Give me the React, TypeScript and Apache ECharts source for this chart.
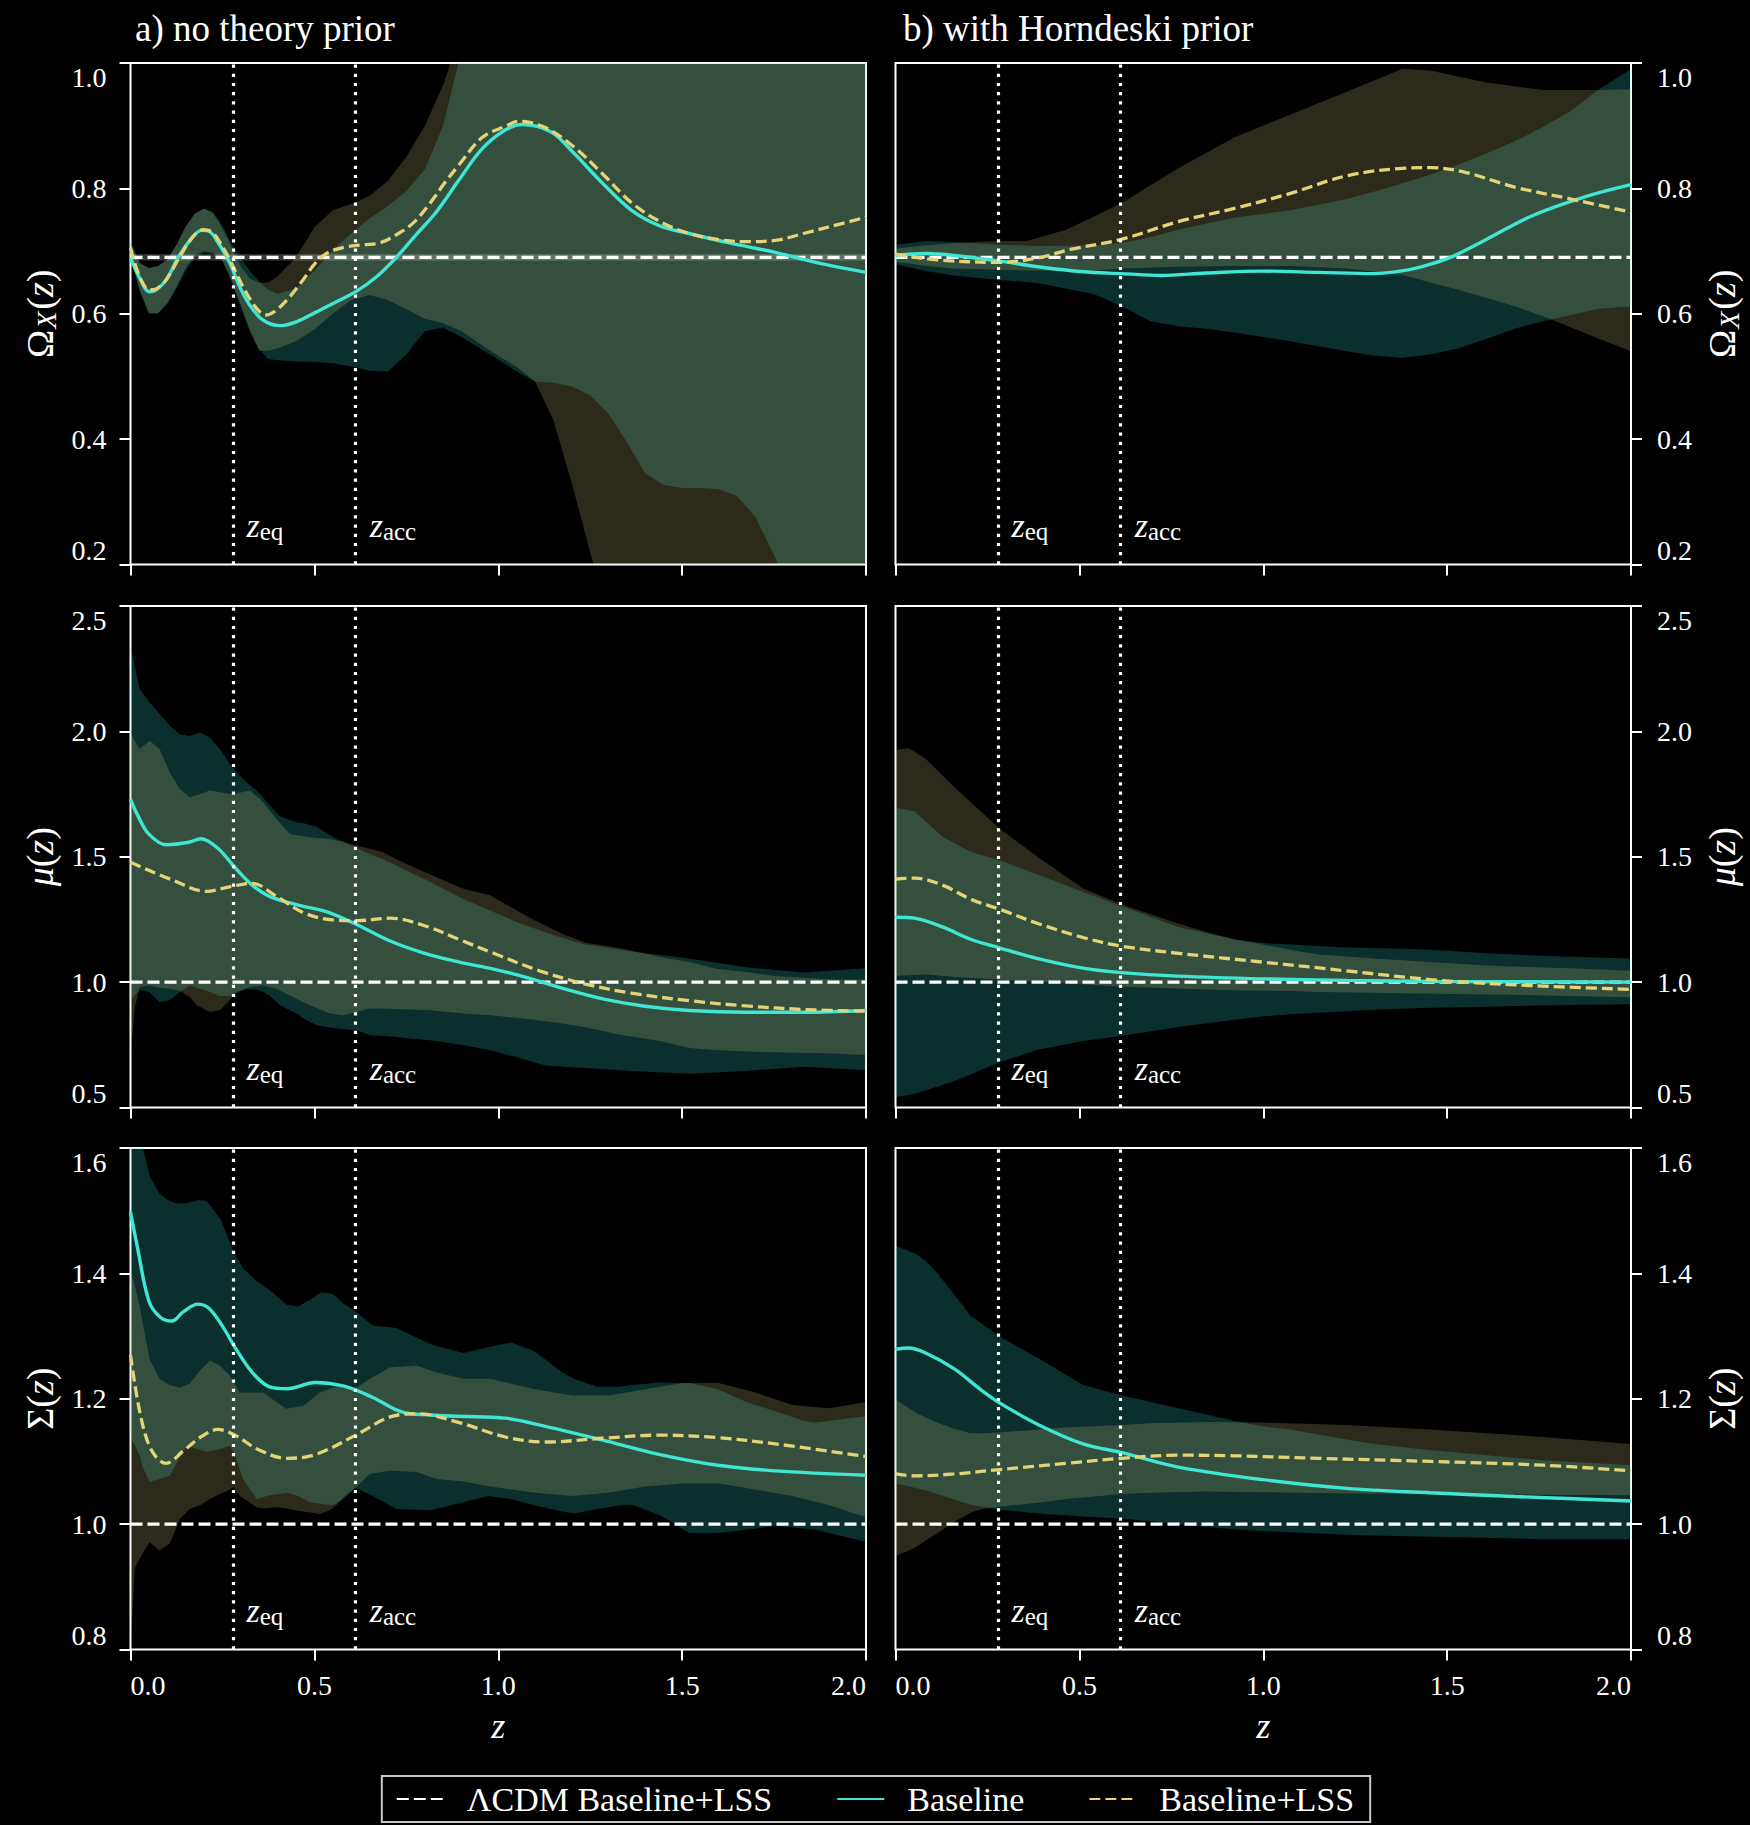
import React, { useEffect, useRef } from "react";
import * as echarts from "echarts";

// ---------- styling constants ----------
const SERIF = "Liberation Serif, DejaVu Serif, serif";
const WHITE = "#ffffff";
const CYAN = "#3fe6d3";
const YELLOW = "#e3d477";
const TEAL_FILL = "rgba(48,235,222,0.2)";
const OLIVE_FILL = "rgba(222,210,130,0.2)";
const LCDM_FILL = "rgba(255,255,255,0.22)";

// ---------- axes ----------
const Z_RANGE = [0, 2, 0.5]; // min, max, interval
const OMEGA_AXIS = [0.2, 1.0, 0.2];
const MU_AXIS = [0.5, 2.5, 0.5];
const SIGMA_AXIS = [0.8, 1.6, 0.2];
const Z_EQ = 0.28;
const Z_ACC = 0.615;
const MARK_LABELS = ["{i|z}{s|eq}", "{i|z}{s|acc}"];

const LCDM_OMEGA = 0.69;
const LCDM_MU = 1.0;
const LCDM_SIGMA = 1.0;
const LCDM_OMEGA_BAND = [[0, 0.685, 0.695], [2, 0.685, 0.695]];

const SERIES_NAMES = ["ΛCDM Baseline+LSS", "Baseline", "Baseline+LSS"];

// ---------- Omega_X(z), no theory prior ----------
const OMEGA_A_BASE_LINE = [
  [0, 0.689], [0.025, 0.657], [0.052, 0.635], [0.07, 0.638], [0.097, 0.654], [0.134, 0.694],
  [0.17, 0.723], [0.193, 0.733], [0.215, 0.731], [0.242, 0.71], [0.27, 0.681], [0.297, 0.643],
  [0.324, 0.614], [0.36, 0.59], [0.406, 0.581], [0.451, 0.587], [0.506, 0.603], [0.56, 0.619],
  [0.615, 0.636], [0.669, 0.659], [0.723, 0.69], [0.778, 0.727], [0.831, 0.762], [0.894, 0.814],
  [0.956, 0.863], [1.019, 0.893], [1.066, 0.902], [1.144, 0.89], [1.206, 0.856], [1.284, 0.808],
  [1.3625, 0.765], [1.44, 0.74], [1.519, 0.728], [1.628, 0.713], [1.753, 0.698], [1.8625, 0.682],
  [2.0, 0.666],
];
const OMEGA_A_LSS_LINE = [
  [0, 0.705], [0.025, 0.659], [0.052, 0.638], [0.074, 0.641], [0.097, 0.654], [0.134, 0.691],
  [0.17, 0.723], [0.197, 0.734], [0.22, 0.731], [0.242, 0.715], [0.27, 0.686], [0.306, 0.643],
  [0.342, 0.609], [0.369, 0.598], [0.397, 0.606], [0.433, 0.627], [0.469, 0.654], [0.506, 0.683],
  [0.542, 0.699], [0.588, 0.707], [0.633, 0.71], [0.678, 0.713], [0.723, 0.726], [0.769, 0.745],
  [0.814, 0.776], [0.856, 0.81], [0.894, 0.838], [0.956, 0.881], [1.019, 0.899], [1.058, 0.907],
  [1.128, 0.897], [1.206, 0.866], [1.284, 0.823], [1.3625, 0.777], [1.44, 0.747], [1.519, 0.728],
  [1.6125, 0.717], [1.675, 0.715], [1.753, 0.717], [1.83, 0.728], [1.909, 0.74], [2.0, 0.754],
];
// [z, lower, upper]
const OMEGA_A_BASE_BAND = [
  [0, 0.69, 0.715], [0.025, 0.636, 0.681], [0.05, 0.6, 0.673], [0.075, 0.6, 0.676], [0.1, 0.615, 0.686],
  [0.125, 0.64, 0.71], [0.15, 0.668, 0.739], [0.175, 0.69, 0.76], [0.2, 0.697, 0.768], [0.225, 0.695, 0.762],
  [0.25, 0.684, 0.74], [0.275, 0.65, 0.712], [0.3, 0.61, 0.688], [0.325, 0.57, 0.668], [0.35, 0.543, 0.652],
  [0.375, 0.528, 0.638], [0.4, 0.526, 0.632], [0.45, 0.524, 0.64], [0.5, 0.523, 0.668], [0.55, 0.521, 0.702],
  [0.6, 0.516, 0.728], [0.65, 0.509, 0.752], [0.7, 0.508, 0.772], [0.75, 0.535, 0.796], [0.8, 0.572, 0.83],
  [0.85, 0.578, 0.9], [0.9, 0.563, 1.02], [0.95, 0.545, 1.1], [1.0, 0.527, 1.1], [1.05, 0.508, 1.1],
  [1.1, 0.492, 1.1], [1.15, 0.49, 1.1], [1.2, 0.484, 1.1], [1.25, 0.47, 1.1], [1.3, 0.44, 1.1],
  [1.35, 0.395, 1.1], [1.4, 0.345, 1.1], [1.45, 0.327, 1.1], [1.5, 0.322, 1.1], [1.55, 0.322, 1.1],
  [1.6, 0.32, 1.1], [1.65, 0.309, 1.1], [1.7, 0.275, 1.1], [1.75, 0.215, 1.1], [1.8, 0.15, 1.1],
  [1.9, 0.06, 1.1], [2.0, -0.03, 1.1],
];
const OMEGA_A_LSS_BAND = [
  [0, 0.69, 0.715], [0.025, 0.638, 0.681], [0.05, 0.601, 0.673], [0.075, 0.601, 0.676], [0.1, 0.617, 0.686],
  [0.125, 0.643, 0.71], [0.15, 0.673, 0.739], [0.175, 0.694, 0.76], [0.2, 0.7, 0.768], [0.225, 0.697, 0.76],
  [0.25, 0.686, 0.736], [0.275, 0.654, 0.706], [0.3, 0.614, 0.675], [0.325, 0.574, 0.656], [0.35, 0.541, 0.649],
  [0.375, 0.541, 0.65], [0.4, 0.545, 0.66], [0.45, 0.556, 0.69], [0.5, 0.575, 0.738], [0.55, 0.6, 0.765],
  [0.6, 0.622, 0.775], [0.65, 0.63, 0.788], [0.7, 0.622, 0.812], [0.75, 0.607, 0.85], [0.8, 0.592, 0.899],
  [0.85, 0.585, 0.965], [0.9, 0.572, 1.05], [0.95, 0.552, 1.1], [1.0, 0.533, 1.1], [1.05, 0.515, 1.1],
  [1.1, 0.492, 1.1], [1.15, 0.43, 1.1], [1.2, 0.33, 1.1], [1.25, 0.22, 1.1], [1.3, 0.11, 1.1],
  [1.35, 0.0, 1.1], [1.4, -0.1, 1.1], [2.0, -0.1, 1.1],
];

// ---------- Omega_X(z), Horndeski prior ----------
const OMEGA_B_BASE_LINE = [
  [0, 0.693], [0.082, 0.696], [0.159, 0.693], [0.284, 0.684], [0.387, 0.675], [0.51, 0.667],
  [0.616, 0.664], [0.723, 0.661], [0.845, 0.665], [0.998, 0.668], [1.15, 0.666], [1.303, 0.664],
  [1.394, 0.67], [1.455, 0.679], [1.517, 0.692], [1.608, 0.719], [1.73, 0.756], [1.883, 0.788], [2.0, 0.806],
];
const OMEGA_B_LSS_LINE = [
  [0, 0.695], [0.113, 0.686], [0.284, 0.682], [0.387, 0.689], [0.479, 0.703], [0.616, 0.719],
  [0.769, 0.747], [0.921, 0.768], [1.074, 0.792], [1.227, 0.82], [1.379, 0.832], [1.455, 0.833],
  [1.547, 0.826], [1.684, 0.802], [1.837, 0.783], [2.0, 0.762],
];
const OMEGA_B_BASE_BAND = [
  [0, 0.679, 0.71], [0.082, 0.668, 0.716], [0.159, 0.661, 0.714], [0.284, 0.654, 0.71], [0.387, 0.649, 0.708],
  [0.54, 0.631, 0.709], [0.616, 0.612, 0.713], [0.693, 0.588, 0.722], [0.769, 0.58, 0.734], [0.845, 0.576, 0.744],
  [0.921, 0.57, 0.753], [0.998, 0.563, 0.759], [1.074, 0.556, 0.765], [1.15, 0.548, 0.774], [1.227, 0.54, 0.783],
  [1.303, 0.533, 0.795], [1.379, 0.53, 0.808], [1.455, 0.535, 0.822], [1.532, 0.545, 0.838], [1.608, 0.56, 0.856],
  [1.684, 0.576, 0.875], [1.761, 0.588, 0.898], [1.837, 0.598, 0.924], [1.913, 0.608, 0.958], [2.0, 0.612, 0.99],
];
const OMEGA_B_LSS_BAND = [
  [0, 0.683, 0.704], [0.082, 0.676, 0.709], [0.159, 0.672, 0.713], [0.284, 0.67, 0.716], [0.357, 0.669, 0.716],
  [0.464, 0.668, 0.734], [0.54, 0.669, 0.755], [0.616, 0.672, 0.777], [0.769, 0.675, 0.832], [0.921, 0.676, 0.881],
  [1.074, 0.676, 0.918], [1.227, 0.672, 0.954], [1.379, 0.662, 0.991], [1.455, 0.65, 0.988], [1.532, 0.638, 0.978],
  [1.608, 0.625, 0.969], [1.684, 0.612, 0.963], [1.761, 0.596, 0.957], [1.837, 0.578, 0.957], [1.913, 0.56, 0.957],
  [2.0, 0.54, 0.958],
];

// ---------- mu(z), no theory prior ----------
const MU_A_BASE_LINE = [
  [0, 1.73], [0.019, 1.667], [0.05, 1.59], [0.097, 1.548], [0.159, 1.558], [0.191, 1.572], [0.2375, 1.534],
  [0.284, 1.457], [0.331, 1.387], [0.378, 1.342], [0.456, 1.307], [0.534, 1.28], [0.616, 1.229], [0.706, 1.164],
  [0.8, 1.115], [0.894, 1.08], [0.9875, 1.052], [1.081, 1.017], [1.175, 0.975], [1.284, 0.933], [1.394, 0.905],
  [1.519, 0.887], [1.675, 0.88], [1.831, 0.88], [2.0, 0.887],
];
const MU_A_LSS_LINE = [
  [0, 1.478], [0.1125, 1.408], [0.206, 1.362], [0.269, 1.38], [0.331, 1.394], [0.394, 1.345], [0.472, 1.276],
  [0.55, 1.248], [0.616, 1.245], [0.706, 1.255], [0.8, 1.225], [0.894, 1.17], [0.9875, 1.115], [1.1125, 1.045],
  [1.2375, 0.992], [1.3625, 0.956], [1.519, 0.926], [1.675, 0.905], [1.831, 0.891], [2.0, 0.884],
];
const MU_A_BASE_BAND = [
  [0, 0.93, 2.341], [0.025, 0.97, 2.168], [0.052, 0.96, 2.115], [0.079, 0.921, 2.07], [0.107, 0.928, 2.022],
  [0.134, 0.961, 1.989], [0.161, 0.987, 1.982], [0.189, 0.974, 1.996], [0.216, 0.961, 1.976], [0.243, 0.945, 1.93],
  [0.27, 0.945, 1.87], [0.297, 0.962, 1.823], [0.316, 0.972, 1.797], [0.343, 0.97, 1.764], [0.361, 0.961, 1.735],
  [0.379, 0.945, 1.704], [0.406, 0.908, 1.662], [0.452, 0.875, 1.637], [0.47, 0.855, 1.635], [0.506, 0.828, 1.62],
  [0.56, 0.815, 1.571], [0.615, 0.808, 1.535], [0.651, 0.788, 1.51], [0.687, 0.785, 1.49], [0.723, 0.781, 1.465],
  [0.76, 0.775, 1.438], [0.814, 0.768, 1.4], [0.905, 0.748, 1.332], [0.978, 0.728, 1.286], [1.05, 0.7, 1.24],
  [1.128, 0.667, 1.199], [1.206, 0.66, 1.162], [1.2375, 0.658, 1.15], [1.3625, 0.646, 1.122], [1.519, 0.635, 1.094],
  [1.675, 0.646, 1.059], [1.831, 0.663, 1.038], [2.0, 0.649, 1.055],
];
const MU_A_LSS_BAND = [
  [0, 0.7, 1.996], [0.012, 0.9, 1.96], [0.025, 0.981, 1.93], [0.052, 0.987, 1.963], [0.079, 0.978, 1.93],
  [0.107, 0.974, 1.836], [0.134, 0.966, 1.77], [0.161, 0.94, 1.737], [0.18, 0.908, 1.745], [0.216, 0.881, 1.764],
  [0.243, 0.888, 1.757], [0.27, 0.928, 1.75], [0.288, 0.961, 1.752], [0.325, 0.981, 1.764], [0.361, 0.987, 1.717],
  [0.397, 0.974, 1.651], [0.433, 0.947, 1.591], [0.488, 0.908, 1.578], [0.542, 0.875, 1.571], [0.578, 0.868, 1.56],
  [0.615, 0.881, 1.545], [0.651, 0.895, 1.532], [0.687, 0.895, 1.518], [0.723, 0.893, 1.49], [0.76, 0.891, 1.465],
  [0.814, 0.888, 1.43], [0.905, 0.875, 1.372], [0.978, 0.868, 1.346], [1.097, 0.85, 1.248], [1.175, 0.835, 1.192],
  [1.2375, 0.82, 1.157], [1.331, 0.79, 1.136], [1.44, 0.765, 1.1], [1.519, 0.737, 1.08], [1.597, 0.728, 1.052],
  [1.675, 0.723, 1.04], [1.753, 0.72, 1.024], [1.909, 0.715, 1.01], [2.0, 0.709, 1.01],
];

// ---------- mu(z), Horndeski prior ----------
const MU_B_BASE_LINE = [
  [0, 1.259], [0.052, 1.255], [0.128, 1.22], [0.204, 1.171], [0.284, 1.136], [0.387, 1.094], [0.51, 1.056],
  [0.616, 1.038], [0.769, 1.024], [0.998, 1.013], [1.227, 1.007], [1.455, 1.003], [2.0, 1.0],
];
const MU_B_LSS_LINE = [
  [0, 1.411], [0.052, 1.415], [0.128, 1.387], [0.204, 1.331], [0.284, 1.29], [0.387, 1.234], [0.51, 1.178],
  [0.616, 1.143], [0.769, 1.115], [0.998, 1.08], [1.227, 1.045], [1.455, 1.01], [1.684, 0.989], [2.0, 0.971],
];
const MU_B_BASE_BAND = [
  [0, 0.541, 1.695], [0.052, 0.555, 1.681], [0.128, 0.59, 1.58], [0.159, 0.605, 1.555], [0.204, 0.632, 1.52],
  [0.284, 0.681, 1.485], [0.387, 0.73, 1.429], [0.51, 0.765, 1.359], [0.616, 0.786, 1.303], [0.769, 0.821, 1.22],
  [0.921, 0.85, 1.171], [0.998, 0.863, 1.156], [1.074, 0.872, 1.15], [1.227, 0.884, 1.138], [1.303, 0.89, 1.136],
  [1.455, 0.898, 1.129], [1.608, 0.902, 1.115], [1.684, 0.905, 1.11], [1.837, 0.909, 1.101], [2.0, 0.912, 1.094],
];
const MU_B_LSS_BAND = [
  [0, 1.024, 1.926], [0.037, 1.027, 1.933], [0.082, 1.031, 1.891], [0.159, 1.02, 1.779], [0.284, 1.01, 1.611],
  [0.387, 1.002, 1.499], [0.464, 0.996, 1.42], [0.51, 0.992, 1.373], [0.616, 0.982, 1.31], [0.769, 0.975, 1.234],
  [0.845, 0.971, 1.2], [0.921, 0.968, 1.171], [1.074, 0.965, 1.129], [1.15, 0.961, 1.11], [1.303, 0.958, 1.094],
  [1.455, 0.954, 1.08], [1.608, 0.951, 1.066], [1.761, 0.947, 1.058], [1.837, 0.945, 1.055], [2.0, 0.94, 1.045],
];

// ---------- Sigma(z), no theory prior ----------
const SIGMA_A_BASE_LINE = [
  [0, 1.498], [0.019, 1.441], [0.05, 1.356], [0.081, 1.33], [0.1125, 1.324], [0.144, 1.339], [0.183, 1.351],
  [0.214, 1.344], [0.253, 1.313], [0.284, 1.282], [0.331, 1.242], [0.378, 1.219], [0.425, 1.216], [0.503, 1.226],
  [0.581, 1.22], [0.659, 1.202], [0.7375, 1.179], [0.816, 1.174], [0.894, 1.172], [1.019, 1.169], [1.128, 1.156],
  [1.284, 1.134], [1.44, 1.111], [1.597, 1.094], [1.753, 1.085], [2.0, 1.078],
];
const SIGMA_A_LSS_LINE = [
  [0, 1.27], [0.027, 1.174], [0.058, 1.117], [0.097, 1.097], [0.144, 1.117], [0.191, 1.139], [0.2375, 1.151],
  [0.284, 1.142], [0.347, 1.119], [0.425, 1.105], [0.503, 1.111], [0.6125, 1.142], [0.706, 1.171], [0.784, 1.176],
  [0.894, 1.162], [1.019, 1.139], [1.128, 1.131], [1.284, 1.137], [1.44, 1.142], [1.597, 1.138], [1.753, 1.128],
  [2.0, 1.108],
];
const SIGMA_A_BASE_BAND = [
  [0, 1.14, 1.75], [0.025, 1.109, 1.65], [0.034, 1.09, 1.6], [0.052, 1.067, 1.555], [0.079, 1.072, 1.527],
  [0.107, 1.077, 1.515], [0.128, 1.1, 1.512], [0.152, 1.125, 1.512], [0.183, 1.12, 1.517], [0.207, 1.115, 1.516],
  [0.245, 1.12, 1.486], [0.27, 1.125, 1.45], [0.284, 1.11, 1.43], [0.306, 1.072, 1.408], [0.343, 1.04, 1.388],
  [0.379, 1.046, 1.373], [0.425, 1.05, 1.35], [0.456, 1.045, 1.347], [0.488, 1.035, 1.358], [0.519, 1.032, 1.37],
  [0.55, 1.03, 1.367], [0.579, 1.04, 1.352], [0.6125, 1.058, 1.339], [0.659, 1.045, 1.317], [0.723, 1.024, 1.313],
  [0.816, 1.022, 1.287], [0.905, 1.035, 1.273], [0.972, 1.045, 1.282], [1.034, 1.04, 1.29], [1.097, 1.03, 1.276],
  [1.175, 1.02, 1.242], [1.206, 1.017, 1.232], [1.269, 1.024, 1.219], [1.331, 1.03, 1.219], [1.3625, 1.031, 1.222],
  [1.44, 1.014, 1.226], [1.519, 0.986, 1.225], [1.597, 0.986, 1.215], [1.675, 0.991, 1.195], [1.753, 0.997, 1.18],
  [1.831, 0.993, 1.165], [1.8625, 0.991, 1.162], [2.0, 0.972, 1.172],
];
const SIGMA_A_LSS_BAND = [
  [0, 0.8, 1.407], [0.012, 0.93, 1.38], [0.025, 0.945, 1.348], [0.052, 0.971, 1.263], [0.079, 0.958, 1.232],
  [0.107, 0.969, 1.222], [0.134, 1.008, 1.218], [0.161, 1.024, 1.224], [0.189, 1.03, 1.245], [0.216, 1.04, 1.261],
  [0.243, 1.048, 1.253], [0.27, 1.055, 1.237], [0.279, 1.059, 1.228], [0.297, 1.045, 1.21], [0.343, 1.027, 1.21],
  [0.361, 1.025, 1.21], [0.397, 1.027, 1.195], [0.424, 1.025, 1.184], [0.47, 1.02, 1.189], [0.515, 1.016, 1.21],
  [0.542, 1.022, 1.216], [0.56, 1.03, 1.22], [0.579, 1.043, 1.219], [0.615, 1.06, 1.218], [0.651, 1.08, 1.232],
  [0.705, 1.085, 1.25], [0.778, 1.083, 1.253], [0.832, 1.072, 1.242], [0.905, 1.068, 1.232], [0.978, 1.06, 1.232],
  [1.1, 1.05, 1.215], [1.2, 1.045, 1.205], [1.3, 1.05, 1.205], [1.4, 1.06, 1.215], [1.5, 1.065, 1.225],
  [1.6, 1.065, 1.225], [1.7, 1.055, 1.21], [1.8, 1.045, 1.19], [1.9, 1.03, 1.185], [2.0, 1.011, 1.195],
];

// ---------- Sigma(z), Horndeski prior ----------
const SIGMA_B_BASE_LINE = [
  [0, 1.279], [0.037, 1.281], [0.082, 1.273], [0.159, 1.248], [0.235, 1.213], [0.284, 1.193], [0.387, 1.159],
  [0.51, 1.128], [0.616, 1.114], [0.769, 1.091], [0.998, 1.071], [1.227, 1.057], [1.455, 1.05], [1.684, 1.044],
  [2.0, 1.037],
];
const SIGMA_B_LSS_LINE = [
  [0, 1.08], [0.052, 1.077], [0.159, 1.08], [0.284, 1.087], [0.464, 1.097], [0.616, 1.105], [0.769, 1.11],
  [0.921, 1.109], [1.15, 1.105], [1.455, 1.1], [1.761, 1.094], [2.0, 1.085],
];
const SIGMA_B_BASE_BAND = [
  [0, 1.065, 1.444], [0.052, 1.058, 1.432], [0.082, 1.054, 1.42], [0.113, 1.048, 1.401], [0.204, 1.031, 1.333],
  [0.284, 1.023, 1.299], [0.387, 1.017, 1.265], [0.51, 1.012, 1.222], [0.616, 1.009, 1.205], [0.769, 1.0, 1.185],
  [0.876, 0.994, 1.171], [0.921, 0.992, 1.165], [0.998, 0.989, 1.156], [1.074, 0.987, 1.151], [1.227, 0.983, 1.135],
  [1.303, 0.982, 1.128], [1.455, 0.98, 1.118], [1.532, 0.979, 1.114], [1.761, 0.976, 1.102], [2.0, 0.976, 1.094],
];
const SIGMA_B_LSS_BAND = [
  [0, 0.949, 1.199], [0.052, 0.962, 1.179], [0.082, 0.974, 1.17], [0.113, 0.985, 1.162], [0.159, 1.003, 1.152],
  [0.204, 1.018, 1.145], [0.235, 1.024, 1.145], [0.284, 1.028, 1.146], [0.387, 1.034, 1.151], [0.464, 1.04, 1.154],
  [0.54, 1.044, 1.156], [0.616, 1.048, 1.158], [0.693, 1.05, 1.161], [0.845, 1.052, 1.163], [0.998, 1.051, 1.162],
  [1.227, 1.049, 1.158], [1.455, 1.048, 1.151], [1.761, 1.047, 1.139], [2.0, 1.046, 1.128],
];

// ---------- layout ----------
const COL_LEFT = [130.5, 895.5];
const COL_WIDTH = 735.5;
const ROW_TOP = [63, 606, 1148];
const ROW_HEIGHT = 501.5;

const NAME_OMEGA = "{n|Ω}{s|X}{n|(}{i|z}{n|)}";
const NAME_MU = "{i|μ}{n|(}{i|z}{n|)}";
const NAME_SIGMA = "{n|Σ(}{i|z}{n|)}";

const PANELS = [
  { row: 0, col: 0, axis: OMEGA_AXIS, name: NAME_OMEGA, lcdm: LCDM_OMEGA, lcdmBand: LCDM_OMEGA_BAND, base: OMEGA_A_BASE_LINE, lss: OMEGA_A_LSS_LINE, baseBand: OMEGA_A_BASE_BAND, lssBand: OMEGA_A_LSS_BAND },
  { row: 0, col: 1, axis: OMEGA_AXIS, name: NAME_OMEGA, lcdm: LCDM_OMEGA, lcdmBand: null, base: OMEGA_B_BASE_LINE, lss: OMEGA_B_LSS_LINE, baseBand: OMEGA_B_BASE_BAND, lssBand: OMEGA_B_LSS_BAND },
  { row: 1, col: 0, axis: MU_AXIS, name: NAME_MU, lcdm: LCDM_MU, lcdmBand: null, base: MU_A_BASE_LINE, lss: MU_A_LSS_LINE, baseBand: MU_A_BASE_BAND, lssBand: MU_A_LSS_BAND },
  { row: 1, col: 1, axis: MU_AXIS, name: NAME_MU, lcdm: LCDM_MU, lcdmBand: null, base: MU_B_BASE_LINE, lss: MU_B_LSS_LINE, baseBand: MU_B_BASE_BAND, lssBand: MU_B_LSS_BAND },
  { row: 2, col: 0, axis: SIGMA_AXIS, name: NAME_SIGMA, lcdm: LCDM_SIGMA, lcdmBand: null, base: SIGMA_A_BASE_LINE, lss: SIGMA_A_LSS_LINE, baseBand: SIGMA_A_BASE_BAND, lssBand: SIGMA_A_LSS_BAND },
  { row: 2, col: 1, axis: SIGMA_AXIS, name: NAME_SIGMA, lcdm: LCDM_SIGMA, lcdmBand: null, base: SIGMA_B_BASE_LINE, lss: SIGMA_B_LSS_LINE, baseBand: SIGMA_B_BASE_BAND, lssBand: SIGMA_B_LSS_BAND },
];

const NAME_RICH = {
  n: { fontFamily: SERIF, fontSize: 38, color: WHITE, lineHeight: 42 },
  i: { fontFamily: SERIF, fontStyle: "italic", fontSize: 38, color: WHITE, lineHeight: 42 },
  s: { fontFamily: SERIF, fontStyle: "italic", fontSize: 28, color: WHITE, lineHeight: 24, verticalAlign: "bottom", padding: [0, 2, 0, 1] },
};
const MARK_RICH = {
  i: { fontFamily: SERIF, fontStyle: "italic", fontSize: 34, color: WHITE, lineHeight: 38 },
  s: { fontFamily: SERIF, fontSize: 25, color: WHITE, lineHeight: 22, verticalAlign: "bottom" },
};

function bandSeries(gi: number, data: number[][], color: string, zIndex: number) {
  return {
    type: "custom",
    xAxisIndex: gi,
    yAxisIndex: gi,
    clip: true,
    silent: true,
    z: zIndex,
    data,
    encode: { x: 0, y: [1, 2] },
    renderItem: (params: any, api: any) => {
      if (params.dataIndex !== 0) return null;
      const upper = data.map((d) => api.coord([d[0], d[2]]));
      const lower = data.map((d) => api.coord([d[0], d[1]])).reverse();
      return {
        type: "polygon",
        shape: { points: upper.concat(lower) },
        style: { fill: color, stroke: null },
      };
    },
  };
}

function lineSeries(gi: number, name: string, data: number[][], color: string, dash: any, width: number, zIndex: number, smooth: any) {
  return {
    type: "line",
    name,
    xAxisIndex: gi,
    yAxisIndex: gi,
    data,
    smooth,
    symbol: "none",
    showSymbol: false,
    silent: true,
    clip: true,
    z: zIndex,
    itemStyle: { color },
    lineStyle: { color, width, type: dash, cap: "butt" },
  };
}

function buildOption() {
  const grid: any[] = [];
  const xAxis: any[] = [];
  const yAxis: any[] = [];
  const series: any[] = [];

  PANELS.forEach((p, gi) => {
    const [yMin, yMax, yStep] = p.axis;
    grid.push({
      left: COL_LEFT[p.col],
      top: ROW_TOP[p.row],
      width: COL_WIDTH,
      height: ROW_HEIGHT,
      show: true,
      borderColor: WHITE,
      borderWidth: 2,
      backgroundColor: "transparent",
    });
    const bottomRow = p.row === 2;
    xAxis.push({
      type: "value",
      gridIndex: gi,
      min: Z_RANGE[0],
      max: Z_RANGE[1],
      interval: Z_RANGE[2],
      axisLine: { show: false, onZero: false },
      splitLine: { show: false },
      axisTick: { show: true, length: 11, lineStyle: { color: WHITE, width: 2 } },
      axisLabel: {
        show: bottomRow,
        color: WHITE,
        fontFamily: SERIF,
        fontSize: 28,
        margin: 22,
        formatter: (v: number) => v.toFixed(1),
        alignMinLabel: "left",
        alignMaxLabel: "right",
      },
      name: bottomRow ? "z" : "",
      nameLocation: "middle",
      nameGap: 58,
      nameTextStyle: { color: WHITE, fontFamily: SERIF, fontStyle: "italic", fontSize: 36 },
    });
    yAxis.push({
      type: "value",
      gridIndex: gi,
      position: p.col === 0 ? "left" : "right",
      min: yMin,
      max: yMax,
      interval: yStep,
      axisLine: { show: false, onZero: false },
      splitLine: { show: false },
      axisTick: { show: true, length: 11, lineStyle: { color: WHITE, width: 2 } },
      axisLabel: {
        color: WHITE,
        fontFamily: SERIF,
        fontSize: 28,
        margin: p.col === 0 ? 24 : 26,
        formatter: (v: number) => v.toFixed(1),
        verticalAlignMinLabel: "bottom",
        verticalAlignMaxLabel: "top",
      },
      name: p.name,
      nameLocation: "middle",
      nameRotate: 90,
      nameGap: 70,
      nameTextStyle: { color: WHITE, fontFamily: SERIF, fontSize: 38, rich: NAME_RICH },
    });

    // confidence bands
    series.push(bandSeries(gi, p.baseBand, TEAL_FILL, 1));
    series.push(bandSeries(gi, p.lssBand, OLIVE_FILL, 1));
    if (p.lcdmBand) series.push(bandSeries(gi, p.lcdmBand, LCDM_FILL, 1));

    // LCDM reference line
    series.push(
      lineSeries(gi, SERIES_NAMES[0], [[Z_RANGE[0], p.lcdm], [Z_RANGE[1], p.lcdm]], WHITE, [12, 5], 3.3, 2, false)
    );
    // mean curves
    series.push(lineSeries(gi, SERIES_NAMES[1], p.base, CYAN, "solid", 3.4, 3, 0.35));
    series.push(lineSeries(gi, SERIES_NAMES[2], p.lss, YELLOW, [11, 5], 3.3, 3, 0.35));

    // z_eq / z_acc markers: vertical dotted lines + labels anchored at data points
    const labelY = yMin + 0.078 * (yMax - yMin);
    series.push({
      type: "line",
      xAxisIndex: gi,
      yAxisIndex: gi,
      data: [[Z_EQ, labelY], [Z_ACC, labelY]],
      silent: true,
      z: 5,
      symbol: "circle",
      symbolSize: 0,
      showSymbol: true,
      itemStyle: { color: "transparent", borderWidth: 0 },
      lineStyle: { width: 0, opacity: 0 },
      label: {
        show: true,
        position: "right",
        distance: 13,
        formatter: (prm: any) => MARK_LABELS[prm.dataIndex],
        rich: MARK_RICH,
      },
      labelLayout: { hideOverlap: false },
      markLine: {
        silent: true,
        symbol: ["none", "none"],
        label: { show: false },
        lineStyle: { color: WHITE, width: 3.2, type: [3.2, 6], cap: "butt" },
        emphasis: { disabled: true },
        data: [{ xAxis: Z_EQ }, { xAxis: Z_ACC }],
      },
    });
  });

  return {
    animation: false,
    backgroundColor: "#000000",
    textStyle: { fontFamily: SERIF, color: WHITE },
    title: [
      { text: "a) no theory prior", left: 135, top: 10, padding: 0, textStyle: { color: WHITE, fontFamily: SERIF, fontSize: 37, fontWeight: "normal" } },
      { text: "b) with Horndeski prior", left: 903, top: 10, padding: 0, textStyle: { color: WHITE, fontFamily: SERIF, fontSize: 37, fontWeight: "normal" } },
    ],
    legend: {
      data: SERIES_NAMES,
      bottom: 3,
      left: "center",
      orient: "horizontal",
      itemWidth: 47,
      itemHeight: 16,
      itemGap: 64,
      padding: [6, 16, 6, 14],
      borderColor: "#c8c8c8",
      borderWidth: 2,
      borderRadius: 0,
      backgroundColor: "#000000",
      selectedMode: false,
      itemStyle: { opacity: 0 },
      textStyle: { color: WHITE, fontFamily: SERIF, fontSize: 34, padding: [0, 0, 0, 18] },
    },
    grid,
    xAxis,
    yAxis,
    series,
  };
}

export default function App() {
  const ref = useRef<HTMLDivElement>(null);
  useEffect(() => {
    if (!ref.current) return;
    const chart = echarts.init(ref.current, undefined, { renderer: "svg" });
    chart.setOption(buildOption() as any);
    return () => chart.dispose();
  }, []);
  return (
    <div
      ref={ref}
      style={{ position: "absolute", left: 0, top: 0, width: 1750, height: 1825, background: "#000" }}
    />
  );
}
